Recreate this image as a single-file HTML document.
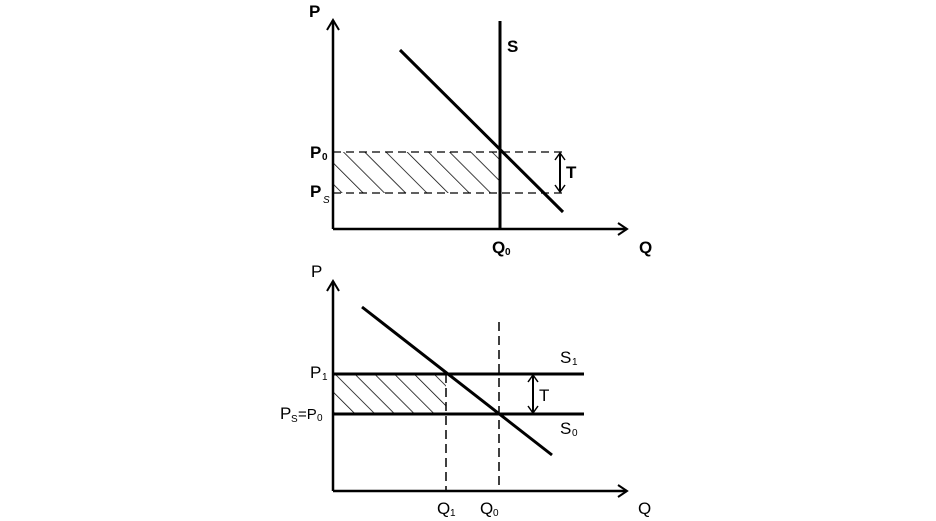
<!DOCTYPE html>
<html><head><meta charset="utf-8"><style>
html,body{margin:0;padding:0;background:#fff;}
svg{display:block;font-family:"Liberation Sans",Arial,sans-serif;}
</style></head><body>
<svg width="936" height="521" viewBox="0 0 936 521" xmlns="http://www.w3.org/2000/svg">
<defs>
<pattern id="h1" patternUnits="userSpaceOnUse" width="15" height="15" patternTransform="rotate(-45)">
<line x1="0" y1="0" x2="0" y2="15" stroke="#000" stroke-width="1.5"/>
</pattern>
<pattern id="h2" patternUnits="userSpaceOnUse" width="14" height="14" patternTransform="rotate(-45)">
<line x1="0" y1="0" x2="0" y2="14" stroke="#000" stroke-width="1.5"/>
</pattern>
</defs>
<g stroke="#000" fill="none">
<!-- top chart -->
<rect x="334" y="152" width="166" height="41" fill="url(#h1)" stroke="none"/>
<line x1="333" y1="229" x2="333" y2="20" stroke-width="2.5"/>
<polyline points="327,30 333,20 339,30" stroke-width="2"/>
<line x1="333" y1="229" x2="627" y2="229" stroke-width="2.5"/>
<polyline points="618,223 627,229 618,235" stroke-width="2"/>
<line x1="500" y1="21" x2="500" y2="229" stroke-width="3"/>
<line x1="400" y1="50" x2="563" y2="212" stroke-width="3"/>
<line x1="333" y1="152" x2="565" y2="152" stroke-width="1.2" stroke-dasharray="8,5"/>
<line x1="333" y1="193" x2="565" y2="193" stroke-width="1.2" stroke-dasharray="8,5"/>
<line x1="560" y1="153" x2="560" y2="192" stroke-width="2"/>
<polyline points="555,160 560,153 565,160" stroke-width="1.5"/>
<polyline points="555,185 560,192 565,185" stroke-width="1.5"/>
<!-- bottom chart -->
<rect x="334" y="374" width="112" height="40" fill="url(#h2)" stroke="none"/>
<line x1="333" y1="491" x2="333" y2="281" stroke-width="2.5"/>
<polyline points="327,291 333,281 339,291" stroke-width="2"/>
<line x1="333" y1="491" x2="627" y2="491" stroke-width="2.5"/>
<polyline points="618,485 627,491 618,497" stroke-width="2"/>
<line x1="333" y1="374" x2="584" y2="374" stroke-width="3"/>
<line x1="333" y1="414" x2="584" y2="414" stroke-width="3"/>
<line x1="362" y1="307" x2="552" y2="455" stroke-width="3"/>
<line x1="446" y1="374" x2="446" y2="491" stroke-width="1.5" stroke-dasharray="9,5"/>
<line x1="499" y1="322" x2="499" y2="491" stroke-width="1.5" stroke-dasharray="9,5"/>
<line x1="533" y1="375" x2="533" y2="413" stroke-width="2"/>
<polyline points="528,382 533,375 538,382" stroke-width="1.5"/>
<polyline points="528,406 533,413 538,406" stroke-width="1.5"/>
</g>
<g fill="#000">
<text x="309" y="17" font-size="17" font-weight="bold">P</text>
<text x="507" y="52" font-size="17" font-weight="bold">S</text>
<text x="310" y="158" font-size="17" font-weight="bold">P</text><text x="322" y="160" font-size="10" font-weight="bold">0</text>
<text x="310" y="197" font-size="17" font-weight="bold">P</text><text x="323" y="203" font-size="10" font-style="italic">S</text>
<text x="566" y="178" font-size="17" font-weight="bold">T</text>
<text x="492" y="253" font-size="17" font-weight="bold">Q</text><text x="505" y="255" font-size="10" font-weight="bold">0</text>
<text x="639" y="253" font-size="17" font-weight="bold">Q</text>
<text x="311" y="277" font-size="17">P</text>
<text x="310" y="378" font-size="17">P</text><text x="322" y="380" font-size="10">1</text>
<text x="280" y="419" font-size="17">P</text><text x="291" y="422" font-size="10">S</text><text x="298" y="419" font-size="15">=P</text><text x="317" y="421" font-size="10">0</text>
<text x="560" y="363" font-size="17">S</text><text x="572" y="365" font-size="10">1</text>
<text x="560" y="434" font-size="17">S</text><text x="572" y="436" font-size="10">0</text>
<text x="539" y="401" font-size="17">T</text>
<text x="437" y="514" font-size="17">Q</text><text x="450" y="516" font-size="10">1</text>
<text x="480" y="514" font-size="17">Q</text><text x="493" y="516" font-size="10">0</text>
<text x="638" y="514" font-size="17">Q</text>
</g>
</svg>
</body></html>
